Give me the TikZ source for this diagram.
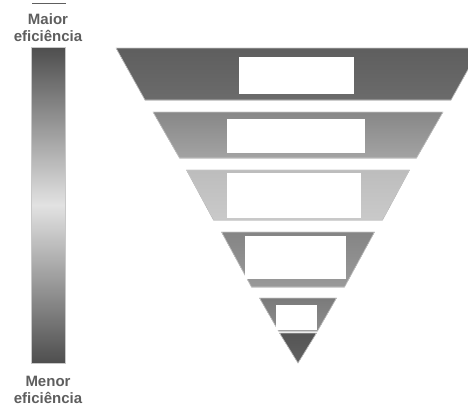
\documentclass[tikz,border=0pt]{standalone}
\usepackage{fontspec}
\setmainfont{Liberation Sans}
\usepackage{xcolor}
\usepackage{tikz}
\usetikzlibrary{positioning}
\definecolor{efink}{HTML}{5E5E5E}
\definecolor{efdark}{HTML}{4E4E4E}
\definecolor{eflight}{HTML}{E2E2E2}
\definecolor{efedge}{HTML}{C8C8C8}
\tikzset{
  lbl/.style={align=center,inner sep=0pt,text=efink,
              font=\fontsize{15}{17}\selectfont\bfseries},
  tier/.style={draw=efedge,line width=0.6pt,line join=round},
  slot/.style={rectangle,fill=white,draw=none,inner sep=0pt},
}
\begin{document}
\begin{tikzpicture}[x=1pt,y=-1pt]
\useasboundingbox (0,0) rectangle (468,405);
\clip (0,0) rectangle (468,405);
% scale on the left
\draw[efink,line width=1.4pt] (32,3.5) -- (66,3.5);
\node[lbl,anchor=north] (maior) at (48,13.5) {Maior\\eficiência};
\node[rectangle,inner sep=0pt,minimum width=34pt,minimum height=316pt,
      top color=efdark,bottom color=efdark,middle color=eflight,
      draw=efedge,line width=0.4pt,below=5pt of maior] (bar) {};
\node[lbl,anchor=north] (menor) at (48,375.5) {Menor\\eficiência};
% funnel
\fill[tier,top color=black!63,bottom color=black!58] (116,48) -- (480,48) -- (451,100) -- (145,100) -- cycle;
\fill[tier,top color=black!47,bottom color=black!36] (153,112) -- (443,112) -- (416.5,158) -- (179.5,158) -- cycle;
\fill[tier,top color=black!26,bottom color=black!21] (186.5,170) -- (409.5,170) -- (382.5,220) -- (213.5,220) -- cycle;
\fill[tier,top color=black!48,bottom color=black!40] (221.5,232) -- (374.5,232) -- (344.5,287) -- (251.5,287) -- cycle;
\fill[tier,top color=black!52,bottom color=black!45] (259.5,298) -- (336.5,298) -- (317.5,331) -- (278.5,331) -- cycle;
\fill[tier,top color=black!67,bottom color=black!62] (279.5,333) -- (316.5,333) -- (298,363) -- cycle;
% white slots
\node[slot,minimum width=115pt,minimum height=37pt] (slota) at (296.5,75.5) {};
\node[slot,minimum width=138pt,minimum height=34pt] (slotb) at (296,136) {};
\node[slot,minimum width=134pt,minimum height=45pt] (slotc) at (294,195.5) {};
\node[slot,minimum width=101pt,minimum height=43pt] (slotd) at (295.5,257.5) {};
\node[slot,minimum width=41pt,minimum height=25pt] (slote) at (296.5,317.5) {};
\end{tikzpicture}
\end{document}
